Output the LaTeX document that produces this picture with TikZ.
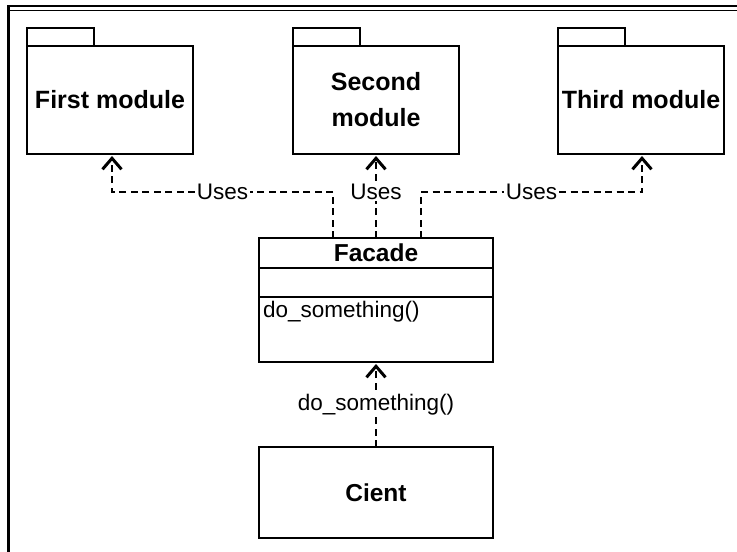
\documentclass[tikz,border=0pt]{standalone}
\usepackage{fontspec}
\setmainfont{Liberation Sans}
\usetikzlibrary{positioning,arrows.meta}
\tikzset{
  pkg/.style={draw, line width=1.3pt, minimum width=166pt, minimum height=108pt,
    inner sep=0pt, outer sep=0pt, align=center, font=\bfseries\fontsize{25}{36}\selectfont},
  pkgtab/.style={draw, line width=1.3pt, minimum width=67pt, minimum height=18pt,
    inner sep=0pt, outer sep=0pt},
  classbox/.style={draw, line width=1.3pt, minimum width=234pt, inner sep=0pt, outer sep=0pt},
  uses/.style={line width=1.4pt, dash pattern=on 7pt off 4.5pt, shorten >=2pt,
    -{Straight Barb[length=11pt,width=19pt,line width=3pt]}},
  lbl/.style={fill=white, inner sep=1.5pt, font=\fontsize{22.5}{26}\selectfont}
}
\begin{document}
\begin{tikzpicture}[x=1pt,y=-1pt]
                    \useasboundingbox (0,0) rectangle (737,552);
                    % frame
                    \draw[line width=2.2pt] (8.5,552) |- (737,6);
                    \draw[line width=0.9pt] (10,10) -- (737,10);
                    % packages
                    \node[pkg,anchor=north west] (first) at (27,46) {First module};
                    \node[pkg,right=100pt of first] (second) {Second\\module};
                    \node[pkg,right=99pt of second] (third) {Third module};
                    \node[pkgtab,above right=0pt and 0pt of first.north west] (firsttab) {};
                    \node[pkgtab,above right=0pt and 0pt of second.north west] (secondtab) {};
                    \node[pkgtab,above right=0pt and 0pt of third.north west] (thirdtab) {};
                    % facade class
                    \node[classbox,anchor=north west,minimum height=30pt,
                          font=\bfseries\fontsize{24.5}{28}\selectfont] (facade) at (259,238) {Facade};
                    \node[classbox,below=0pt of facade,minimum height=29pt] (attrs) {};
                    \node[classbox,below=0pt of attrs,minimum height=65pt] (ops) {};
                    \node[anchor=north west,inner sep=0pt,font=\fontsize{22.5}{26}\selectfont]
                          (opname) at ([xshift=4pt,yshift=-4pt]ops.north west) {do\_something()};
                    % client
                    \node[classbox,below=85pt of ops,minimum height=91pt,
                          font=\bfseries\fontsize{24.5}{28}\selectfont] (client) {Cient};
                    % dependencies
                    \coordinate (bendl) at (112,192);
                    \coordinate (bendr) at (642,192);
                    \draw[uses] ([xshift=-43pt]facade.north) |- node[lbl,pos=0.75] {Uses} (bendl)
                          -- (bendl |- first.south);
                    \draw[uses] (facade.north) -- node[lbl,pos=0.55] {Uses} (second.south);
                    \draw[uses] ([xshift=45pt]facade.north) |- node[lbl,pos=0.75] {Uses} (bendr)
                          -- (bendr |- third.south);
                    \draw[uses] (client.north) -- node[lbl,pos=0.5] {do\_something()} (ops.south);
                \end{tikzpicture}
\end{document}
